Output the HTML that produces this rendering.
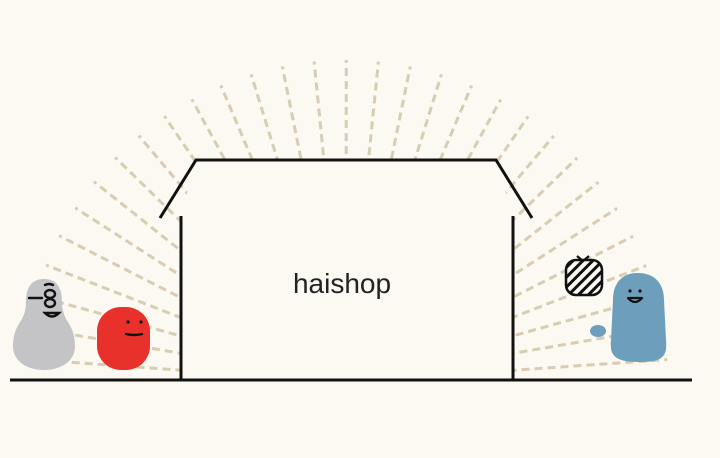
<!DOCTYPE html>
<html><head><meta charset="utf-8"><style>
html,body{margin:0;padding:0;background:#fbf9f2;width:720px;height:458px;overflow:hidden}
svg{display:block}
</style></head><body>
<svg id="s" width="720" height="458" viewBox="0 0 720 458" xmlns="http://www.w3.org/2000/svg">
<rect width="720" height="458" fill="#fbf9f2"/>
<g id="rays" stroke="#d8ccb2" stroke-width="3" stroke-dasharray="8 5" fill="none"></g>
<polygon points="181,216 196,160 496,160 513,216 513,380 181,380" fill="#fbf9f2"/>
<g stroke="#111" stroke-width="3" fill="none">
<polyline points="160,218 196,160 496,160 532,218"/>
<line x1="181" y1="216" x2="181" y2="381"/>
<line x1="513" y1="216" x2="513" y2="381"/>
<line x1="10" y1="380" x2="692" y2="380"/>
</g>
<text x="342" y="293" font-family="Liberation Sans, sans-serif" font-size="28" fill="#222" text-anchor="middle">haishop</text>
<!-- grey character -->
<path d="M44,279 C31,279 26,288 26,302 C26,310 24,316 20,322 C15,330 13,337 13,346 C13,362 28,370 44,370 C60,370 75,362 75,346 C75,337 73,330 68,322 C64,316 62,310 62,302 C62,288 57,279 44,279Z" fill="#c4c4c6"/>
<g stroke="#111" stroke-width="2.4" fill="none" stroke-linecap="round">
<path d="M45,285 q4,-2 8,0"/><path d="M29,298 h13"/>
<ellipse cx="50" cy="294" rx="5" ry="4"/><ellipse cx="50" cy="303" rx="5" ry="4"/>
<path d="M45,313 q7,7 14,0 z"/>
</g>
<!-- red character -->
<rect x="97" y="307" width="53" height="63" rx="24" fill="#e8312a"/>
<circle cx="128" cy="322" r="1.6" fill="#111"/><circle cx="141" cy="322" r="1.6" fill="#111"/>
<path d="M126,334 q8,2 16,0" stroke="#111" stroke-width="2.4" fill="none" stroke-linecap="round"/>
<!-- tv icon -->
<defs><pattern id="h" width="7" height="7" patternUnits="userSpaceOnUse" patternTransform="rotate(45)"><rect width="3" height="7" fill="#111"/></pattern><clipPath id="tc"><rect x="566" y="260" width="36" height="35" rx="10"/></clipPath></defs>
<rect x="566" y="260" width="36" height="35" rx="10" fill="#fbf9f2" stroke="#111" stroke-width="2.5"/>
<rect x="566" y="260" width="36" height="35" fill="url(#h)" clip-path="url(#tc)"/>
<path d="M577,256 l6,5 l6,-5 M583,261 v-2" stroke="#111" stroke-width="2.2" fill="none"/>
<!-- blue character -->
<path d="M613,300 C613,282 623,273 638,273 C653,273 664,282 664,300 L666,340 C668,358 660,362 640,362 C618,362 609,358 611,340Z" fill="#6d9fbd"/>
<ellipse cx="598" cy="331" rx="8" ry="6" fill="#6d9fbd"/>
<circle cx="630" cy="291" r="1.6" fill="#111"/><circle cx="640" cy="291" r="1.6" fill="#111"/>
<path d="M628,298 q7,8 14,0 z" stroke="#111" stroke-width="2.2" fill="none" stroke-linejoin="round"/>
</svg>
<script>
var g=document.getElementById('rays'),cx=346,cy=382,r1=150,r2=322,h='';
for(var a=4;a<=176.1;a+=5.73){var t=a*Math.PI/180,c=Math.cos(t),s=Math.sin(t);
h+='<line x1="'+(cx+r1*c)+'" y1="'+(cy-r1*s)+'" x2="'+(cx+r2*c)+'" y2="'+(cy-r2*s)+'"/>';}
g.innerHTML=h;
</script>
</body></html>
